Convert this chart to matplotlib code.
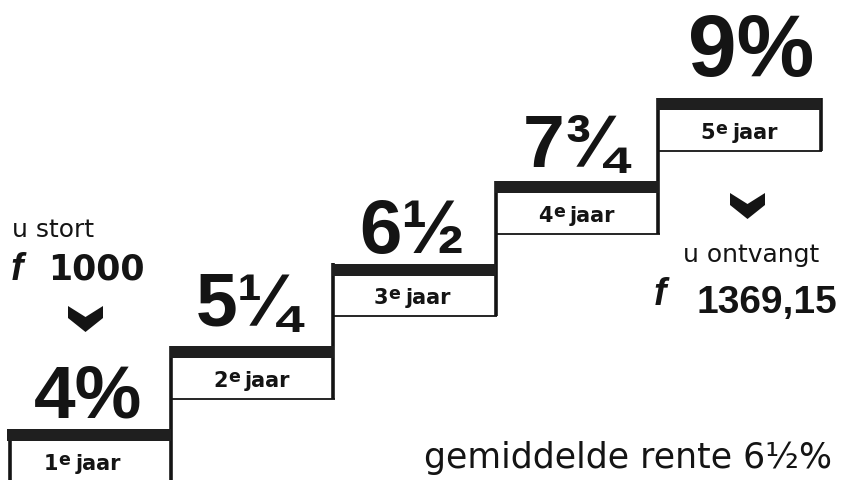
import matplotlib
matplotlib.use("Agg")
import matplotlib.pyplot as plt
from matplotlib.patches import Rectangle, Polygon

# ---------------- data ----------------
years = [1, 2, 3, 4, 5]
rates = [4.0, 5.25, 6.5, 7.75, 9.0]
rate_labels = ["4%", "5¼", "6½", "7¾", "9%"]
year_suffix = "e"
year_word = "jaar"
deposit_label = "u stort"
deposit_amount = "1000"
payout_label = "u ontvangt"
payout_amount = "1369,15"
currency = "f"
average_text = "gemiddelde rente 6½%"

# ---------------- layout ----------------
W, H, DPI = 841, 481, 100
X0_PX = 8.0          # pixel x of left edge of first step
STEP_PX = 162.5      # pixel width of one step
Y_REF_PX = 430.0     # pixel y of the top of the first bar
PX_PER_RATE = 66.2   # vertical pixels per percent
BAR_PX = 12.0        # thickness of tread bar
BOX_PX = 53.0        # bar top to box bottom
LABEL_GAP_PX = [12, 21, 11, 15, 23]
LABEL_DX_PX = [-1, -4, -2, -2, 12]
LABEL_SIZE_PT = [54, 54, 55, 54, 63]
YEAR_DX_PX = [-7, 0, -2, 0, 0]

INK = "#141414"
BAR = "#1f1f1f"

fig = plt.figure(figsize=(W / DPI, H / DPI), dpi=DPI)
fig.patch.set_facecolor("white")
renderer = fig.canvas.get_renderer()

ax = fig.add_axes([0, 0, 1, 1])
ax.set_xlim(-X0_PX / STEP_PX, (W - X0_PX) / STEP_PX)
ax.set_ylim(rates[0] - (H - Y_REF_PX) / PX_PER_RATE, rates[0] + Y_REF_PX / PX_PER_RATE)
ax.axis("off")

bar_h = BAR_PX / PX_PER_RATE
box_h = BOX_PX / PX_PER_RATE
ymin = ax.get_ylim()[0]

def width_px(t):
    return t.get_window_extent(renderer).width

for i, (yr, r) in enumerate(zip(years, rates)):
    xl = yr - 1
    xr = yr
    # tread bar
    ax.add_patch(Rectangle((xl - 0.005, r - bar_h), 1.01, bar_h,
                           facecolor=BAR, edgecolor="none", zorder=3))
    # box bottom line
    ax.plot([xl, xr + 0.01], [r - box_h, r - box_h], color=INK, lw=1.3,
            solid_capstyle="butt", zorder=2)
    # left riser (first step: down to the bottom)
    if i == 0:
        ax.plot([xl + 0.012, xl + 0.012], [r - bar_h, ymin], color=INK, lw=2.6,
                solid_capstyle="butt", zorder=2)
    # right riser: from next tread down to the bottom of this box
    top = rates[i + 1] if i + 1 < len(rates) else r
    ax.plot([xr, xr], [top, r - box_h], color=INK, lw=2.6,
            solid_capstyle="butt", zorder=2)

    # year label: number, raised "e", word
    base = r - box_h + 13 / PX_PER_RATE
    kw = dict(va="baseline", ha="left", fontweight="bold",
              family="DejaVu Sans", color=INK, zorder=4)
    t1 = ax.text(0, base, str(yr), fontsize=15, **kw)
    t2 = ax.text(0, base + 5 / PX_PER_RATE, year_suffix, fontsize=12.5, **kw)
    t3 = ax.text(0, base, year_word, fontsize=15, **kw)
    w1, w2, w3 = width_px(t1), width_px(t2), width_px(t3)
    gap1, gap2 = 0.5, 5.0
    total = w1 + gap1 + w2 + gap2 + w3
    cx = X0_PX + STEP_PX * (xl + 0.5) + YEAR_DX_PX[i]
    left = cx - total / 2
    t1.set_x((left - X0_PX) / STEP_PX)
    t2.set_x((left + w1 + gap1 - X0_PX) / STEP_PX)
    t3.set_x((left + w1 + gap1 + w2 + gap2 - X0_PX) / STEP_PX)

    # big rate label
    ax.text(xl + 0.5 + LABEL_DX_PX[i] / STEP_PX, r + LABEL_GAP_PX[i] / PX_PER_RATE,
            rate_labels[i], ha="center", va="baseline",
            fontsize=LABEL_SIZE_PT[i], fontweight="bold",
            family="Liberation Sans", color=INK, zorder=4)

# ---------------- decorations in pixel space ----------------
deco = fig.add_axes([0, 0, 1, 1])
deco.set_xlim(0, W)
deco.set_ylim(H, 0)
deco.axis("off")
deco.patch.set_alpha(0)

def chevron(x, y, w=35, h=26, notch=11, side=12):
    pts = [(x, y), (x + w / 2, y + notch), (x + w, y), (x + w, y + side),
           (x + w / 2, y + h), (x, y + side)]
    deco.add_patch(Polygon(pts, closed=True, facecolor=INK, edgecolor="none"))

deco.text(12, 237, deposit_label, ha="left", va="baseline",
          fontsize=18, family="DejaVu Sans", color=INK)
deco.text(11, 280, currency, ha="left", va="baseline", fontsize=27,
          fontweight="bold", style="italic", family="Liberation Sans", color=INK)
deco.text(48, 280, deposit_amount, ha="left", va="baseline", fontsize=25,
          fontweight="bold", family="DejaVu Sans", color=INK)
chevron(68, 307)

chevron(730, 194)
deco.text(683, 262, payout_label, ha="left", va="baseline",
          fontsize=18, family="DejaVu Sans", color=INK)
deco.text(654, 305, currency, ha="left", va="baseline", fontsize=27,
          fontweight="bold", style="italic", family="Liberation Sans", color=INK)
deco.text(697, 313, payout_amount, ha="left", va="baseline", fontsize=28,
          fontweight="bold", family="Liberation Sans", color=INK)

deco.text(424, 468, average_text, ha="left", va="baseline",
          fontsize=25, family="DejaVu Sans", color=INK)

fig.savefig("out.png", dpi=DPI, facecolor="white")
